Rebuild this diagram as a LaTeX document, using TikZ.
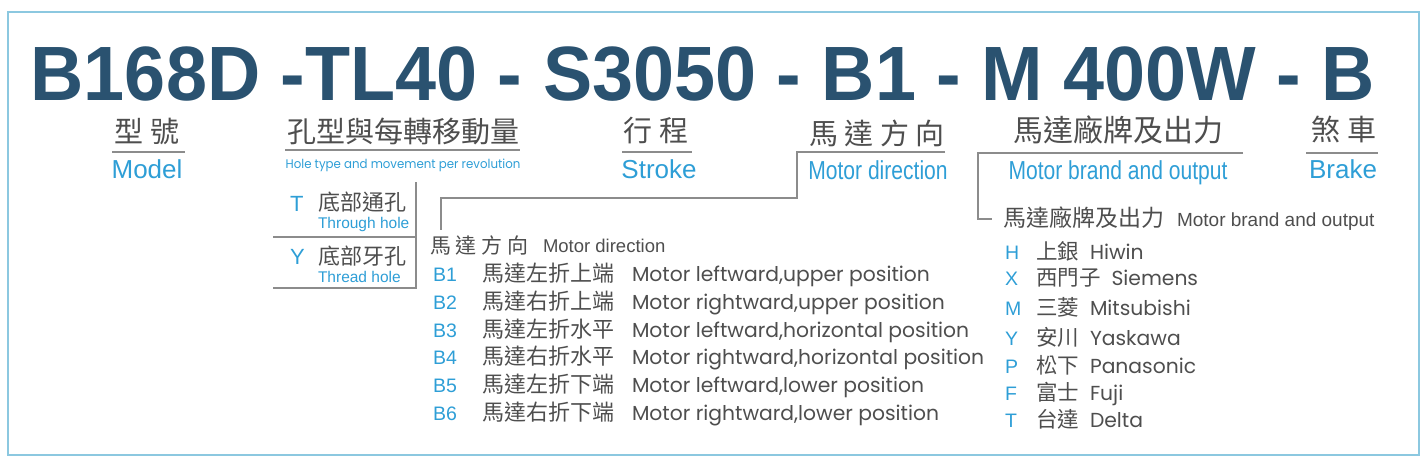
\documentclass[tikz,border=0pt]{standalone}
\usepackage{fontspec}
\setmainfont{Liberation Sans}
\newfontfamily\cjk{Noto Sans CJK TC}
\newfontfamily\geo{Poppins}
\usetikzlibrary{positioning}
\definecolor{titleblue}{RGB}{42,82,112}
\definecolor{codeblue}{RGB}{46,158,214}
\definecolor{txtgray}{RGB}{78,78,78}
\definecolor{linegray}{RGB}{140,140,140}
\definecolor{framecyan}{RGB}{140,200,224}
\newcommand\fsz[1]{\fontsize{#1}{#1}\selectfont}

\begin{document}
\begin{tikzpicture}[x=1pt,y=-1pt,
    lbl/.style={inner sep=0pt,outer sep=0pt},
    cnhead/.style={lbl,text=txtgray,font=\cjk\fsz{29}},
    enhead/.style={lbl,anchor=base,text=codeblue,font=\fsz{26}},
    codetxt/.style={lbl,anchor=base west,text=codeblue,font=\fsz{19.5}},
    cntxt/.style={lbl,anchor=base west,text=txtgray,font=\cjk\fsz{22}},
    entxt/.style={lbl,anchor=base west,text=txtgray,font=\geo\fsz{20.3}},
    rule/.style={draw=linegray,line width=1.1pt}]
    \useasboundingbox (0,0) rectangle (1427,466);

    % Frame
    \draw[framecyan, line width=1.6pt] (8,12) rectangle (1419,455);

    % Part number
    \node[lbl,anchor=base,text=titleblue,font=\bfseries\fsz{77},xscale=0.958] (title) at (703,100)
        {B168D -TL40 - S3050 - B1 - M 400W - B};

    % Headings
    \node[cnhead] (model) at (147,131) {型 號};
    \node[enhead] (modelen) at (147,178) {Model};
    \node[cnhead] (hole) at (403,131) {孔型與每轉移動量};
    \node[lbl,anchor=base,text=codeblue,font=\geo\fsz{12.5},xscale=0.944] (holeen) at (403,168)
        {Hole type and movement per revolution};
    \node[cnhead] (stroke) at (656,131) {行 程};
    \node[enhead] (strokeen) at (659,178) {Stroke};
    \node[cnhead] (dir) at (877,133) {馬 達 方 向};
    \node[enhead,xscale=0.81] (diren) at (878,179) {Motor direction};
    \node[cnhead,font=\cjk\fsz{30}] (brand) at (1118,130) {馬達廠牌及出力};
    \node[enhead,xscale=0.81] (branden) at (1118,179) {Motor brand and output};
    \node[cnhead] (brake) at (1344,130) {煞 車};
    \node[enhead] (brakeen) at (1343,178) {Brake};

    % Rules under headings
    \coordinate (m0) at (112,152); \coordinate (m1) at (185,152);
    \coordinate (h0) at (285,150); \coordinate (h1) at (520,150);
    \coordinate (s0) at (622,152); \coordinate (s1) at (692,152);
    \coordinate (d0) at (945,152); \coordinate (d1) at (797,152);
    \coordinate (d2) at (797,198); \coordinate (d3) at (441,198);
    \coordinate (d4) at (441,230);
    \coordinate (b0) at (1243,153); \coordinate (b1) at (978,153);
    \coordinate (b2) at (978,219); \coordinate (b3) at (992,219);
    \coordinate (k0) at (1306,153); \coordinate (k1) at (1378,153);
    \draw[rule] (m0) -- (m1);
    \draw[rule] (h0) -- (h1);
    \draw[rule] (s0) -- (s1);
    \draw[rule] (d0) -- (d1) -- (d2) -- (d3) -- (d4);
    \draw[rule] (b0) -- (b1) -- (b2) -- (b3);
    \draw[rule] (k0) -- (k1);

    % Hole types
    \coordinate (t0) at (416,182); \coordinate (t1) at (416,288);
    \coordinate (t2) at (273,288); \coordinate (t3) at (273,237);
    \coordinate (t4) at (416,237);
    \draw[rule] (t0) -- (t1) -- (t2);
    \draw[rule] (t3) -- (t4);
    \node[codetxt,font=\fsz{22}] (tcode) at (290,211) {T};
    \node[cntxt] (tcn) at (318,210) {底部通孔};
    \node[codetxt,font=\fsz{15.5}] (ten) at (318,228) {Through hole};
    \node[codetxt,font=\fsz{22}] (ycode) at (290,264) {Y};
    \node[cntxt] (ycn) at (318,264) {底部牙孔};
    \node[codetxt,font=\fsz{15.5}] (yen) at (318,282) {Thread hole};

    % Motor direction list
    \node[cntxt,font=\cjk\fsz{21}] (dirlist) at (430,253) {馬 達 方 向};
    \node[entxt,font=\fsz{18.5}] (dirlisten) at (543,252) {Motor direction};
    \foreach \code/\cntext/\entext [count=\i] in {
        B1/馬達左折上端/{Motor leftward,upper position},
        B2/馬達右折上端/{Motor rightward,upper position},
        B3/馬達左折水平/{Motor leftward,horizontal position},
        B4/馬達右折水平/{Motor rightward,horizontal position},
        B5/馬達左折下端/{Motor leftward,lower position},
        B6/馬達右折下端/{Motor rightward,lower position}}
    {
        \node[codetxt] (dcode\i) at (433,{254+27.7*\i}) {\code};
        \node[cntxt] (dcn\i) at (482,{254+27.7*\i}) {\cntext};
        \node[entxt] (den\i) at (632,{254+27.7*\i}) {\entext};
    }

    % Motor brand list
    \node[cntxt,font=\cjk\fsz{23}] (brandlist) at (1003,226) {馬達廠牌及出力};
    \node[entxt,font=\fsz{19}] (brandlisten) at (1177,226) {Motor brand and output};
    \foreach \code/\cntext/\entext/\yy [count=\i] in {
        H/上銀/Hiwin/259, X/西門子/Siemens/285, M/三菱/Mitsubishi/315,
        Y/安川/Yaskawa/345, P/松下/Panasonic/373, F/富士/Fuji/400, T/台達/Delta/427}
    {
        \node[codetxt] (bcode\i) at (1005,\yy) {\code};
        \node[cntxt,font=\cjk\fsz{21.5}] (bcn\i) at (1036,\yy) {\cntext};
        \node[entxt] (ben\i) at ([xshift=11pt]bcn\i.base east) {\entext};
    }
\end{tikzpicture}
\end{document}
